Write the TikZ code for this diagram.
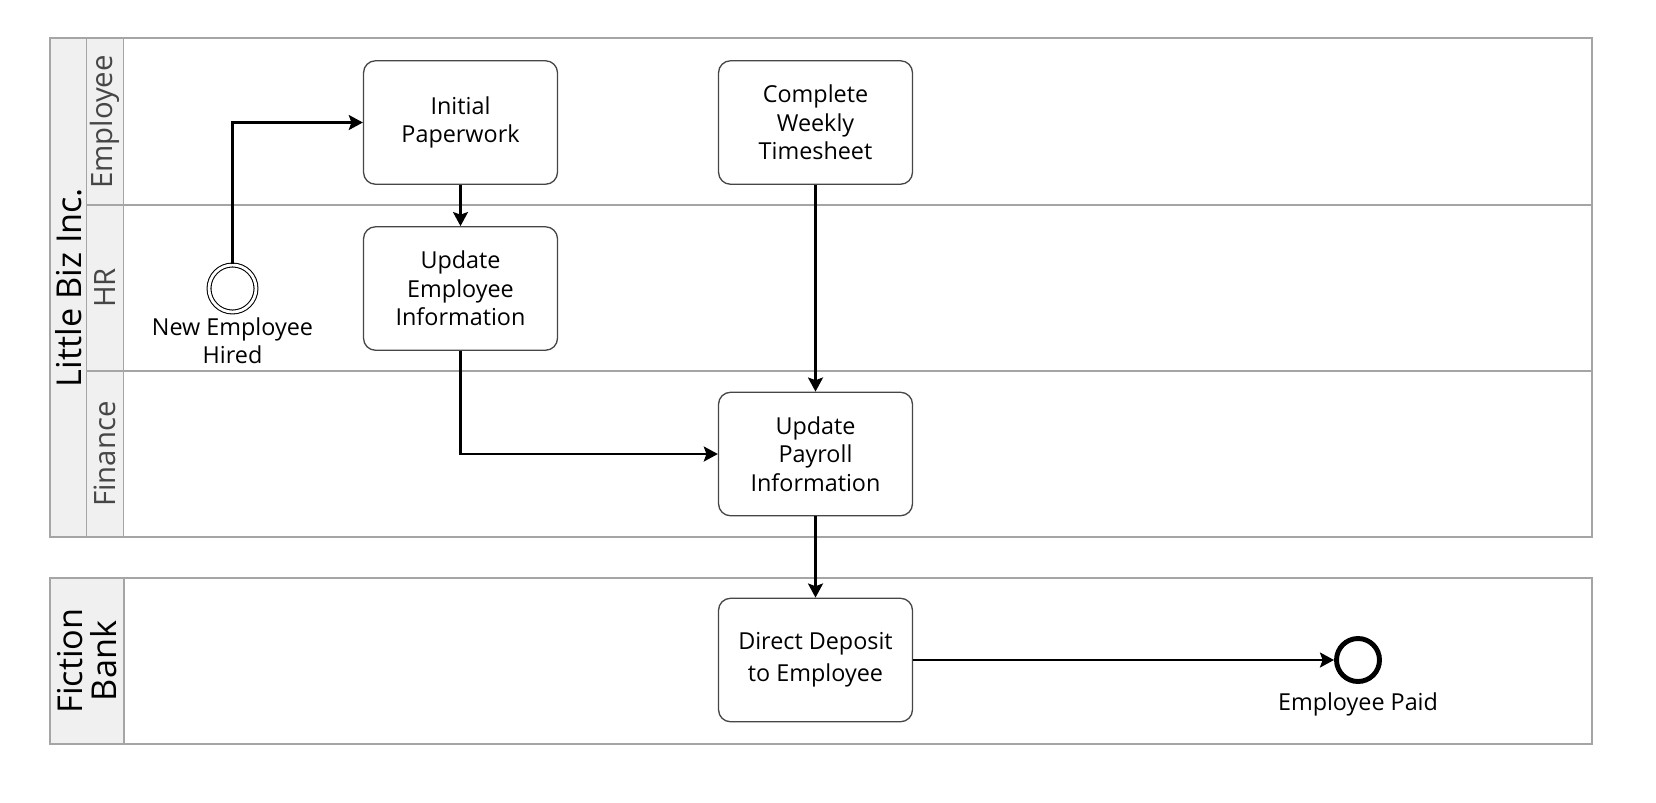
\documentclass[tikz,border=0pt]{standalone}
\usepackage{fontspec}
\setmainfont{Open Sans}
\usepackage{tikz}
\usetikzlibrary{positioning, arrows.meta}
\definecolor{ink}{RGB}{0,0,0}
\definecolor{frame}{RGB}{165,165,165}
\definecolor{headfill}{RGB}{240,240,240}
\definecolor{taskline}{RGB}{70,70,70}
\definecolor{lanetext}{RGB}{70,70,70}
\tikzset{
  task/.style     ={rectangle, rounded corners=0.24cm, draw=taskline, line width=0.75pt,
                    fill=white, minimum width=3.88cm, minimum height=2.47cm, align=center,
                    font=\fontsize{13.3}{16.2}\selectfont},
  startev/.style  ={circle, draw=ink, line width=0.6pt, double, double distance=1.6pt,
                    minimum size=0.94cm, inner sep=0pt},
  endev/.style    ={circle, draw=ink, line width=2.8pt, minimum size=0.86cm, inner sep=0pt},
  evlabel/.style  ={font=\fontsize{13.3}{16.2}\selectfont, align=center, inner sep=0pt},
  poolbox/.style  ={draw=frame, line width=0.7pt},
  headbox/.style  ={draw=frame, fill=headfill, line width=0.7pt},
  poollabel/.style={font=\fontsize{19.5}{19.5}\selectfont, rotate=90, align=center},
  lanelabel/.style={font=\fontsize{16.7}{18}\selectfont, rotate=90, color=lanetext},
  flow/.style     ={->, >={Stealth[length=8pt, width=8.5pt, inset=1.5pt]}, line width=1.5pt, color=ink},
}

\begin{document}
\begin{tikzpicture}[x=0.02cm, y=-0.02cm]
\useasboundingbox (0,0) rectangle (1656,802);
% pools and lanes
\draw[poolbox] (50,38) rectangle (1592,537);
\draw[headbox] (50,38) rectangle (86.5,537);
\draw[headbox] (86.5,38) rectangle (123.5,537);
\draw[frame, line width=0.7pt] (86.5,205) -- (1592,205);
\draw[frame, line width=0.7pt] (86.5,371) -- (1592,371);
\draw[poolbox] (50,578) rectangle (1592,744);
\draw[headbox] (50,578) rectangle (124,744);
\node[poollabel] (poolBiz) at (69,287.5) {Little Biz Inc.};
\node[poollabel] (poolBank) at (87,661) {Fiction\\Bank};
\foreach \y/\name in {122/Employee, 288/HR, 454/Finance} {
  \node[lanelabel] (lane\name) at (105,\y) {\name};
}
% events and tasks
\node[startev] (start) at (232.5,288.5) {};
\node[evlabel, below=0.09cm of start] (startText) {New Employee\\Hired};
\node[task] (paper) at (460.5,122.5) {Initial\\Paperwork};
\node[task] (empInfo) at (460.5,288.5) {Update\\Employee\\Information};
\node[task] (timesheet) at (815.5,122.5) {Complete\\Weekly\\Timesheet};
\node[task] (payroll) at (815.5,454) {Update\\Payroll\\Information};
\node[task] (deposit) at (815.5,660) {Direct Deposit\\[2pt]to Employee};
\node[endev] (paid) at (1358,660) {};
\node[evlabel, below=0.17cm of paid] (paidText) {Employee Paid};
% flows
\draw[flow] (start.north) |- (paper.west);
\draw[flow] (paper.south) -- (empInfo.north);
\draw[flow] (empInfo.south) |- (payroll.west);
\draw[flow] (timesheet.south) -- (payroll.north);
\draw[flow] (payroll.south) -- (deposit.north);
\draw[flow] (deposit.east) -- (paid.west);
\end{tikzpicture}
\end{document}
